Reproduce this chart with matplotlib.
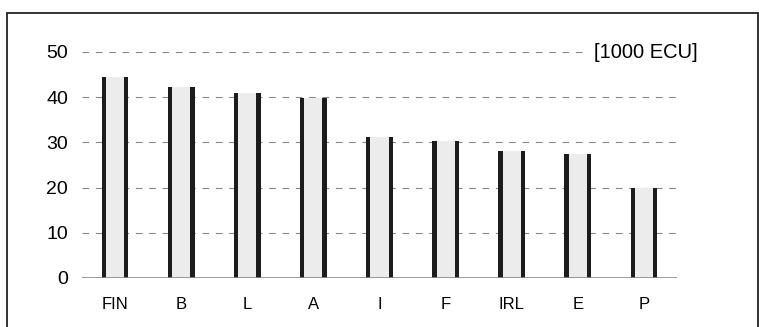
import numpy as np
import matplotlib
matplotlib.use('agg')
import matplotlib.pyplot as plt
from matplotlib.patches import Rectangle

countries = ['FIN', 'B', 'L', 'A', 'I', 'F', 'IRL', 'E', 'P']
series_a = [44.5, 42.2, 40.9, 39.8, 31.2, 30.3, 28.1, 27.4, 19.9]
series_b = [44.5, 42.2, 40.9, 39.8, 31.2, 30.3, 28.1, 27.4, 19.9]
yticks = [0, 10, 20, 30, 40, 50]
unit = '[1000 ECU]'

plt.rcParams['font.family'] = ['Liberation Sans', 'DejaVu Sans']

fig = plt.figure(figsize=(7.59, 3.27), dpi=100)
ax = fig.add_axes([82 / 759, (327 - 278) / 327, (677 - 82) / 759, (278 - 52) / 327])

x = np.arange(len(countries))
half = 0.17
# light fill between the two dark bars
ax.bar(x, series_a, width=2 * half, color='#ececec', zorder=2)
ax.bar(x - half, series_a, width=0.065, color='#1c1c1c', zorder=3)
ax.bar(x + half, series_b, width=0.065, color='#1c1c1c', zorder=3)

ax.set_xlim(-0.5, len(countries) - 0.5)
ax.set_ylim(0, 50)
ax.set_yticks(yticks)
ax.set_xticks(x)
ax.set_xticklabels(countries, fontsize=12)
ax.tick_params(axis='y', labelsize=14, length=0, pad=10)
ax.tick_params(axis='x', length=0, pad=14)

for v in yticks[1:]:
    xmax = 0.845 if v == 50 else 1.0
    ax.axhline(v, xmin=0, xmax=xmax, color='#888888', lw=0.8,
               ls=(0, (6, 6)), zorder=1)
ax.axhline(0, color='#888888', lw=1.2, zorder=4)

for s in ax.spines.values():
    s.set_visible(False)

ax.text(0.86, 50, unit, fontsize=14.5, va='center', ha='left',
        transform=ax.get_yaxis_transform())

# frame, cut off at the bottom edge like the scan
fig.patches.append(Rectangle((6.5 / 759, -10 / 327), 751 / 759, 324.5 / 327,
                             transform=fig.transFigure, fill=False,
                             edgecolor='#222222', lw=1.3))

fig.savefig('out.png', dpi=100)
